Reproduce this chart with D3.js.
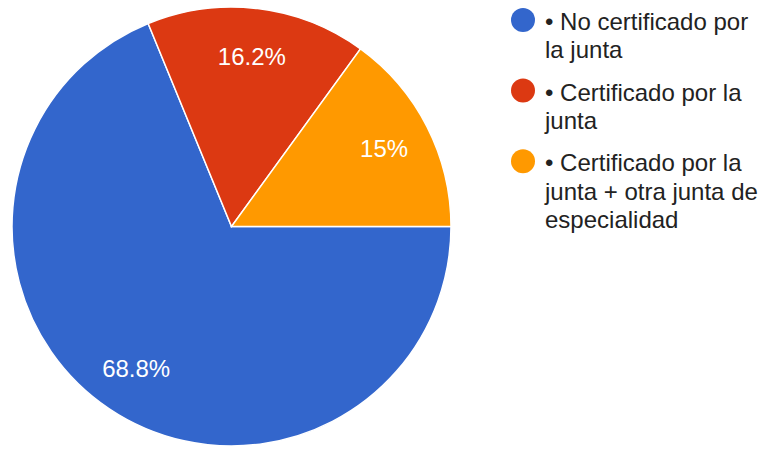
<!DOCTYPE html>
<html>
<head>
<meta charset="utf-8">
<script src="https://cdn.jsdelivr.net/npm/d3@7"></script>
<style>
  html, body { margin: 0; padding: 0; background: #fff; }
  svg { display: block; font-family: "Liberation Sans", Arial, sans-serif; }
</style>
</head>
<body>
<svg id="chart" width="767" height="450"></svg>
<script>
// Respuestas por categoría (porcentaje)
const categories = [
  "• No certificado por la junta",
  "• Certificado por la junta",
  "• Certificado por la junta + otra junta de especialidad"
];
const values = [68.8, 16.2, 15];
const valueLabels = ["68.8%", "16.2%", "15%"];
const colors = ["#3366cc", "#dc3912", "#ff9900"];

const svg = d3.select("#chart");
const cx = 231.5, cy = 226.5, radius = 219.5;

// Slices run clockwise, the first one starting at 3 o'clock
const pie = d3.pie()
  .sort(null)
  .value(d => d)
  .startAngle(Math.PI / 2)
  .endAngle(Math.PI / 2 + 2 * Math.PI);

const arcs = pie(values);
const arc = d3.arc().innerRadius(0).outerRadius(radius);
const labelArc = d3.arc().innerRadius(radius * 0.78).outerRadius(radius * 0.78);

const g = svg.append("g").attr("transform", `translate(${cx},${cy})`);

g.selectAll("path.slice")
  .data(arcs)
  .join("path")
  .attr("class", "slice")
  .attr("d", arc)
  .attr("fill", (d, i) => colors[i])
  .attr("stroke", "#fff")
  .attr("stroke-width", 1.5);

g.selectAll("text.value")
  .data(arcs)
  .join("text")
  .attr("class", "value")
  .attr("transform", d => `translate(${labelArc.centroid(d)})`)
  .attr("text-anchor", "middle")
  .attr("dominant-baseline", "central")
  .attr("fill", "#fff")
  .attr("font-size", 24)
  .text((d, i) => valueLabels[i]);

// Legend: colored dot plus a wrapped label
const legendX = 523, textX = 545, wrapWidth = 220, lineHeight = 28.3, itemGap = 14;
let baseline = 30;
const legend = svg.append("g").attr("class", "legend");

categories.forEach((label, i) => {
  const item = legend.append("g");
  const text = item.append("text")
    .attr("x", textX)
    .attr("fill", "#222")
    .attr("font-size", 24);
  const words = label.split(" ");
  let line = [];
  let lineNo = 0;
  let tspan = text.append("tspan").attr("x", textX).attr("y", baseline);
  words.forEach(w => {
    line.push(w);
    tspan.text(line.join(" "));
    if (tspan.node().getComputedTextLength() > wrapWidth && line.length > 1) {
      line.pop();
      tspan.text(line.join(" "));
      line = [w];
      lineNo++;
      tspan = text.append("tspan")
        .attr("x", textX)
        .attr("y", baseline + lineNo * lineHeight)
        .text(w);
    }
  });
  item.append("circle")
    .attr("cx", legendX)
    .attr("cy", baseline - 10)
    .attr("r", 12)
    .attr("fill", colors[i]);
  baseline += (lineNo + 1) * lineHeight + itemGap;
});
</script>
</body>
</html>
